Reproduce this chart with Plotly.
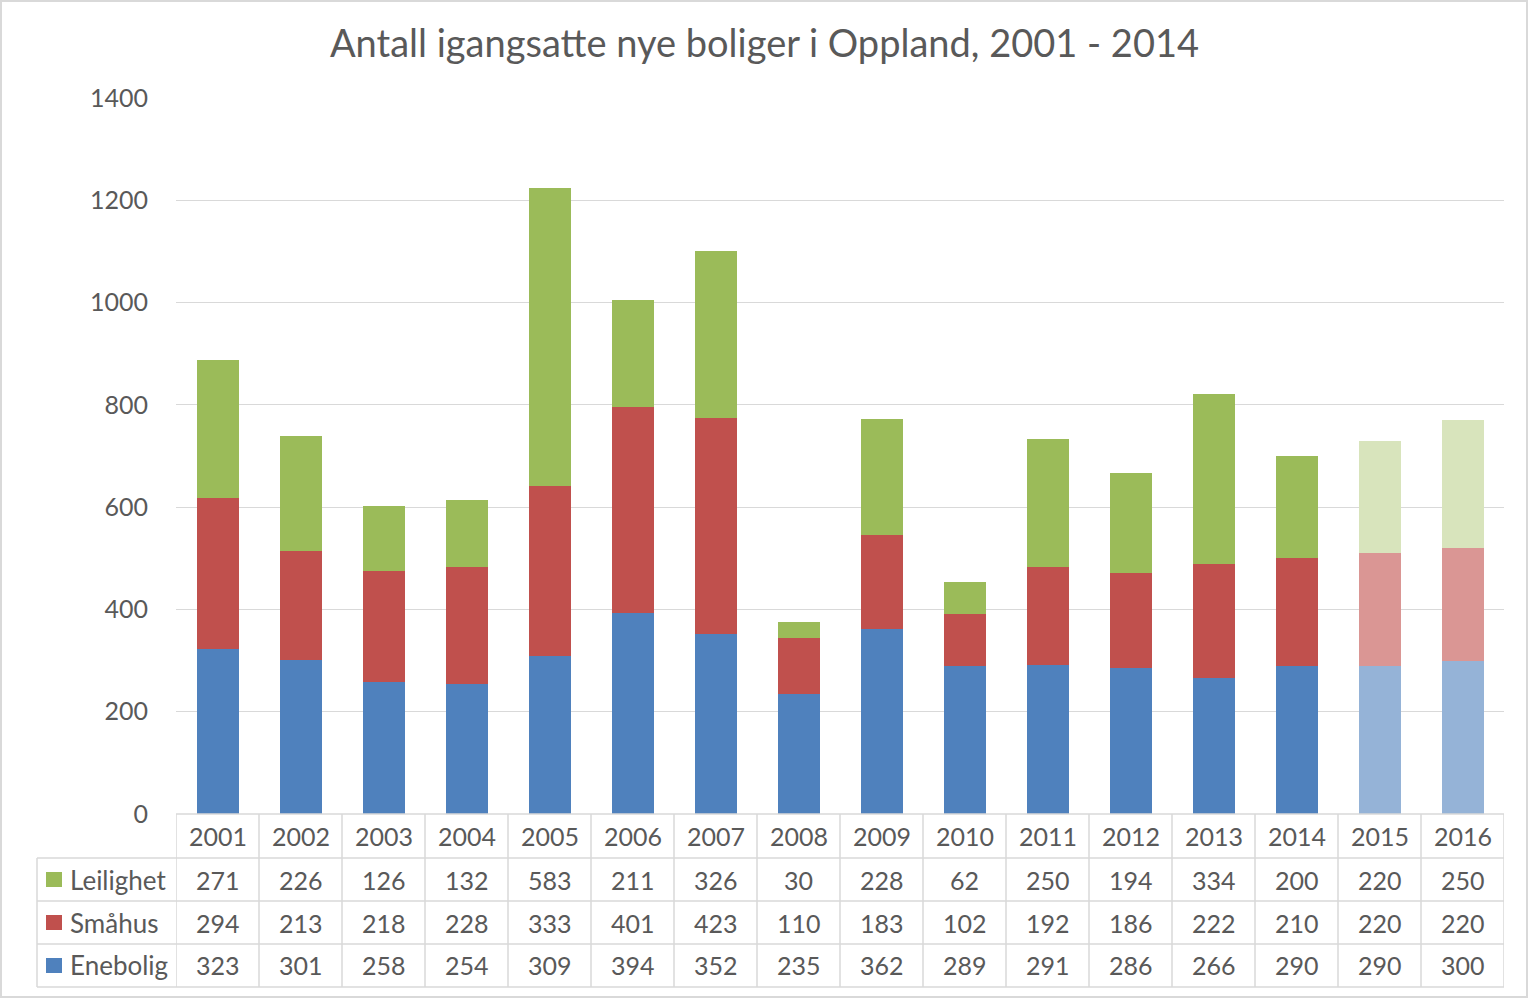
import plotly.graph_objects as go

years = ["2001", "2002", "2003", "2004", "2005", "2006", "2007", "2008",
         "2009", "2010", "2011", "2012", "2013", "2014", "2015", "2016"]
leilighet = [271, 226, 126, 132, 583, 211, 326, 30, 228, 62, 250, 194, 334, 200, 220, 250]
smahus = [294, 213, 218, 228, 333, 401, 423, 110, 183, 102, 192, 186, 222, 210, 220, 220]
enebolig = [323, 301, 258, 254, 309, 394, 352, 235, 362, 289, 291, 286, 266, 290, 290, 300]
n_actual = 14  # years with actual data; the rest are drawn lighter

series = [
    ("Enebolig", enebolig, "#4F81BD", "#95B3D7"),
    ("Småhus", smahus, "#C0504D", "#DA9694"),
    ("Leilighet", leilighet, "#9BBB59", "#D8E4BC"),
]

W, H = 1529, 999
L, R, T, B = 176, 25, 98, 185
PW = W - L - R
PH = H - T - B
Y0 = T + PH  # pixel y of the x axis


def px(x):
    return (x - L) / PW


def py(y):
    return (Y0 - y) / PH


FONT = "Lato"
TXT = "#595959"
GRID = "#D9D9D9"

fig = go.Figure()
for name, vals, col, light in series:
    colors = [col if i < n_actual else light for i in range(len(years))]
    fig.add_trace(go.Bar(x=years, y=vals, name=name, marker=dict(color=colors, line=dict(width=0))))

shapes = []
annotations = []

# table geometry (pixels)
row_edges = [814, 858, 901, 944, 987]
label_left = 37

# horizontal lines
shapes.append(dict(type="line", xref="paper", yref="paper", x0=0, x1=1,
                   y0=py(row_edges[0]), y1=py(row_edges[0]), line=dict(color=GRID, width=1.5)))
for e in row_edges[1:]:
    shapes.append(dict(type="line", xref="paper", yref="paper", x0=px(label_left), x1=1,
                       y0=py(e), y1=py(e), line=dict(color=GRID, width=1.5)))
# vertical lines at category boundaries
for k in range(len(years) + 1):
    shapes.append(dict(type="line", xref="x", yref="paper", x0=k - 0.5, x1=k - 0.5,
                       y0=py(row_edges[0]), y1=py(row_edges[-1]), line=dict(color=GRID, width=1.5)))
shapes.append(dict(type="line", xref="paper", yref="paper", x0=px(label_left), x1=px(label_left),
                   y0=py(row_edges[1]), y1=py(row_edges[-1]), line=dict(color=GRID, width=1.5)))
# outer chart border
shapes.append(dict(type="rect", xref="paper", yref="paper", x0=px(1), x1=px(W - 2),
                   y0=py(1), y1=py(H - 2), line=dict(color=GRID, width=2)))

# header row: years
hc = (row_edges[0] + row_edges[1]) / 2
for i, yr in enumerate(years):
    annotations.append(dict(x=i, y=py(hc), xref="x", yref="paper", text=yr, showarrow=False,
                            font=dict(family=FONT, size=25, color=TXT), xanchor="center", yanchor="middle"))

# data rows (top to bottom: Leilighet, Småhus, Enebolig)
table_rows = [series[2], series[1], series[0]]
for r, (name, vals, col, light) in enumerate(table_rows):
    c = (row_edges[r + 1] + row_edges[r + 2]) / 2
    shapes.append(dict(type="rect", xref="paper", yref="paper", x0=px(46), x1=px(62),
                       y0=py(c - 7.5), y1=py(c + 7.5), fillcolor=col, line=dict(width=0)))
    annotations.append(dict(x=px(68), y=py(c), xref="paper", yref="paper", text=name, showarrow=False,
                            font=dict(family=FONT, size=26, color=TXT), xanchor="left", yanchor="middle"))
    for i, v in enumerate(vals):
        annotations.append(dict(x=i, y=py(c), xref="x", yref="paper", text=str(v), showarrow=False,
                                font=dict(family=FONT, size=25, color=TXT), xanchor="center", yanchor="middle"))

fig.update_layout(
    width=W, height=H,
    margin=dict(l=L, r=R, t=T, b=B),
    paper_bgcolor="white", plot_bgcolor="white",
    barmode="stack", bargap=0.494,
    showlegend=False,
    title=dict(text="Antall igangsatte nye boliger i Oppland, 2001 - 2014",
               x=0.5, xref="container", xanchor="center", y=1 - 44 / H, yanchor="middle",
               font=dict(family=FONT, size=38, color=TXT)),
    font=dict(family=FONT, color=TXT),
    shapes=shapes,
    annotations=annotations,
)
fig.update_xaxes(type="category", categoryorder="array", categoryarray=years,
                 range=[-0.5, len(years) - 0.5], autorange=False,
                 showticklabels=False, showgrid=False, showline=False, zeroline=False, ticks="")
fig.update_yaxes(range=[0, 1400], dtick=200, showgrid=True, gridcolor=GRID, gridwidth=1.3,
                 zeroline=False, showline=False, ticks="outside", ticklen=22,
                 tickcolor="rgba(0,0,0,0)", tickfont=dict(family=FONT, size=25, color=TXT))

fig.write_html("out.html", config={"displayModeBar": False},
               post_script="document.body.style.margin='0';document.body.style.overflow='hidden';")
